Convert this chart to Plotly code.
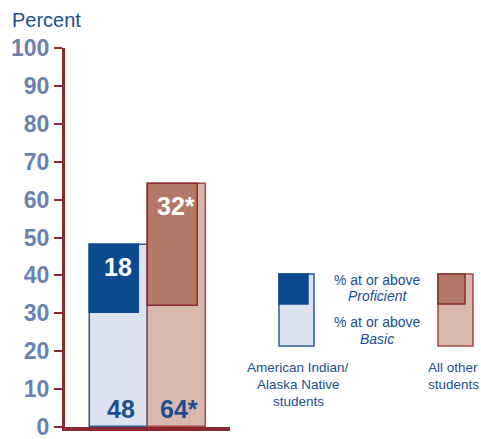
import plotly.graph_objects as go

groups = ["American Indian/Alaska Native students", "All other students"]
basic = [48, 64]
proficient = [18, 32]
basic_labels = ["48", "64*"]
prof_labels = ["18", "32*"]
y_ticks = [0, 10, 20, 30, 40, 50, 60, 70, 80, 90, 100]

light_fill = ["#DCE3EF", "#D9B9AE"]
light_line = ["#2A5CA0", "#A8484B"]
dark_fill = ["#0B4A8E", "#B27868"]
dark_line = ["#0B4A8E", "#8B2A2E"]
axis_red = "#8B2A2E"
tick_blue = "#6A82B3"
text_blue = "#1B4F8F"

xs = [0, 1]

fig = go.Figure()
fig.add_trace(go.Bar(
    x=xs, y=basic, width=0.99,
    marker=dict(color=light_fill, line=dict(color=light_line, width=1.5)),
    hoverinfo="skip", showlegend=False))
fig.add_trace(go.Bar(
    x=xs, y=proficient, base=[b - p for b, p in zip(basic, proficient)],
    width=0.84, offset=-0.495,
    marker=dict(color=dark_fill, line=dict(color=dark_line, width=1.5)),
    hoverinfo="skip", showlegend=False))

annotations = []
for i in range(2):
    annotations.append(dict(x=xs[i] - 0.02, y=basic[i], xref="x", yref="y", text=prof_labels[i],
                            showarrow=False, yanchor="top", yshift=-6,
                            font=dict(family="Liberation Sans", size=25, color="white", weight="bold")))
    annotations.append(dict(x=xs[i] + 0.03, y=0, xref="x", yref="y", text=basic_labels[i],
                            showarrow=False, yanchor="bottom", yshift=2,
                            font=dict(family="Liberation Sans", size=25, color=text_blue, weight="bold")))

W0, PW = 65, 416
B0, PH = 427, 379
def px(x):
    return (x - W0) / PW
def py(y):
    return (B0 - y) / PH

annotations.append(dict(x=px(10), y=py(7), xref="paper", yref="paper", text="Percent",
                        showarrow=False, xanchor="left", yanchor="top",
                        font=dict(family="Liberation Sans", size=20, color=text_blue)))

leg_font_mid = dict(family="Liberation Sans", size=14, color=text_blue)
leg_font_bot = dict(family="Liberation Sans", size=13.5, color=text_blue)
legend_texts = [
    (377, 280, "% at or above", leg_font_mid), (377, 296, "<i>Proficient</i>", leg_font_mid),
    (377, 322, "% at or above", leg_font_mid), (377, 339, "<i>Basic</i>", leg_font_mid),
    (298, 367, "American Indian/", leg_font_bot), (298, 384, "Alaska Native", leg_font_bot),
    (298, 401, "students", leg_font_bot),
    (453, 367, "All other", leg_font_bot), (453, 384, "students", leg_font_bot),
]
for x, y, t, f in legend_texts:
    annotations.append(dict(x=px(x), y=py(y), xref="paper", yref="paper", text=t,
                            showarrow=False, xanchor="center", yanchor="middle", font=f))

shapes = []
for i, (x0, x1, xd) in enumerate([(279, 314, 308), (438, 473, 465)]):
    shapes.append(dict(type="rect", xref="paper", yref="paper",
                       x0=px(x0), x1=px(x1), y0=py(346), y1=py(274),
                       fillcolor=light_fill[i], line=dict(color=light_line[i], width=1.5)))
    shapes.append(dict(type="rect", xref="paper", yref="paper",
                       x0=px(x0), x1=px(xd), y0=py(304), y1=py(274),
                       fillcolor=dark_fill[i], line=dict(color=dark_line[i], width=1.5)))

fig.update_layout(
    width=481, height=439,
    margin=dict(l=W0, r=0, t=48, b=439 - B0, autoexpand=False),
    paper_bgcolor="white", plot_bgcolor="white",
    barmode="overlay", bargap=0,
    annotations=annotations, shapes=shapes,
    xaxis=dict(domain=[0, 165 / PW], range=[-0.923, 1.9], showgrid=False, zeroline=False,
               showticklabels=False, ticks="", showline=True, linecolor=axis_red, linewidth=4,
               fixedrange=True),
    yaxis=dict(range=[0, 100], tickvals=y_ticks, showgrid=False, zeroline=False,
               showline=True, linecolor=axis_red, linewidth=3,
               ticks="outside", ticklen=8, tickwidth=2, tickcolor=axis_red,
               ticklabeloverflow="allow",
               tickfont=dict(family="Liberation Sans", size=23, color=tick_blue, weight="bold"),
               fixedrange=True),
)

fig.write_html("out.html", config={"displayModeBar": False},
               post_script="document.body.style.margin='0';document.body.style.overflow='hidden';")
